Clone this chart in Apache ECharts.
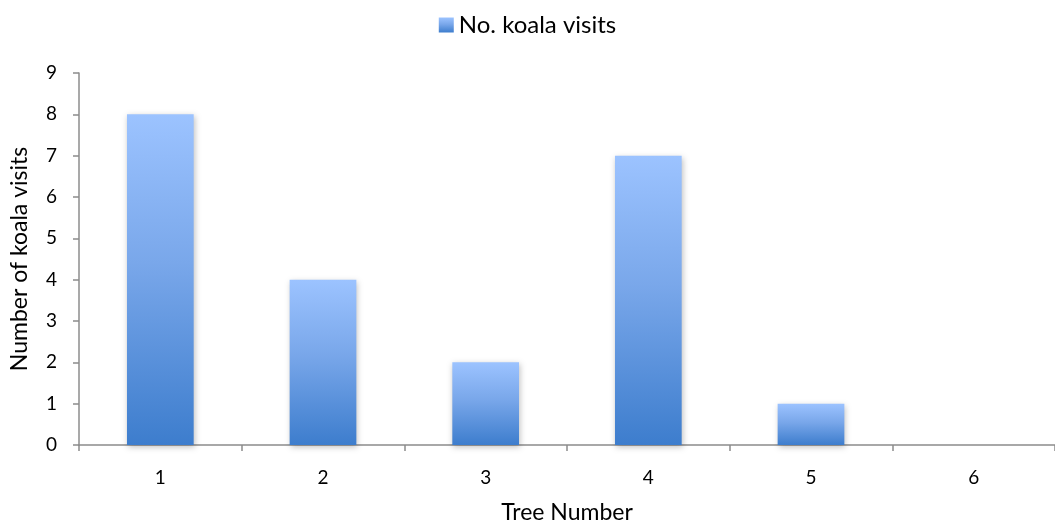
<!DOCTYPE html>
<html>
<head>
<meta charset="utf-8">
<script src="https://cdn.jsdelivr.net/npm/echarts@6/dist/echarts.min.js"></script>
<style>
html,body{margin:0;padding:0;background:#fff;}
#chart{width:1055px;height:529px;}
</style>
</head>
<body>
<div id="chart"></div>
<script>
const categories = ['1', '2', '3', '4', '5', '6'];
const visits = [8, 4, 2, 7, 1, 0];
const seriesName = 'No. koala visits';
const xTitle = 'Tree Number';
const yTitle = 'Number of koala visits';

const FONT = 'Lato, "Open Sans", sans-serif';
const chart = echarts.init(document.getElementById('chart'), null, {renderer: 'canvas'});
const grad = new echarts.graphic.LinearGradient(0, 0, 0, 1, [
  {offset: 0, color: '#9cc3ff'},
  {offset: 0.45, color: '#79a7ea'},
  {offset: 1, color: '#3d7dcd'}
]);
chart.setOption({
  animation: false,
  textStyle: {fontFamily: FONT},
  legend: {
    top: 8,
    left: 'center',
    itemWidth: 15,
    itemHeight: 15,
    itemGap: 6,
    textStyle: {fontSize: 24, color: '#000', fontFamily: FONT},
    data: [{name: seriesName, icon: 'rect'}]
  },
  grid: {left: 78, right: -9, top: 73, bottom: 82, containLabel: false},
  xAxis: {
    type: 'category',
    data: categories,
    name: xTitle,
    nameLocation: 'middle',
    nameGap: 56,
    nameTextStyle: {fontSize: 23, color: '#000', fontFamily: FONT},
    axisLine: {lineStyle: {color: '#8c8c8c', width: 1.5}},
    axisTick: {show: true, length: 6, alignWithLabel: false, lineStyle: {color: '#8c8c8c', width: 1.5}},
    axisLabel: {fontSize: 19, color: '#000', margin: 23, fontFamily: FONT}
  },
  yAxis: {
    type: 'value',
    min: 0,
    max: 9,
    interval: 1,
    name: yTitle,
    nameLocation: 'middle',
    nameGap: 48,
    nameTextStyle: {fontSize: 23, color: '#000', fontFamily: FONT},
    axisLine: {show: true, lineStyle: {color: '#8c8c8c', width: 1.5}},
    axisTick: {show: true, inside: false, length: 6, lineStyle: {color: '#8c8c8c', width: 1.5}},
    splitLine: {show: false},
    axisLabel: {fontSize: 19, color: '#000', margin: 22, fontFamily: FONT}
  },
  series: [{
    name: seriesName,
    type: 'bar',
    data: visits,
    barWidth: '41%',
    itemStyle: {
      color: grad,
      shadowColor: 'rgba(0,0,0,0.25)',
      shadowBlur: 6,
      shadowOffsetX: 1,
      shadowOffsetY: 2
    }
  }]
});
</script>
</body>
</html>
